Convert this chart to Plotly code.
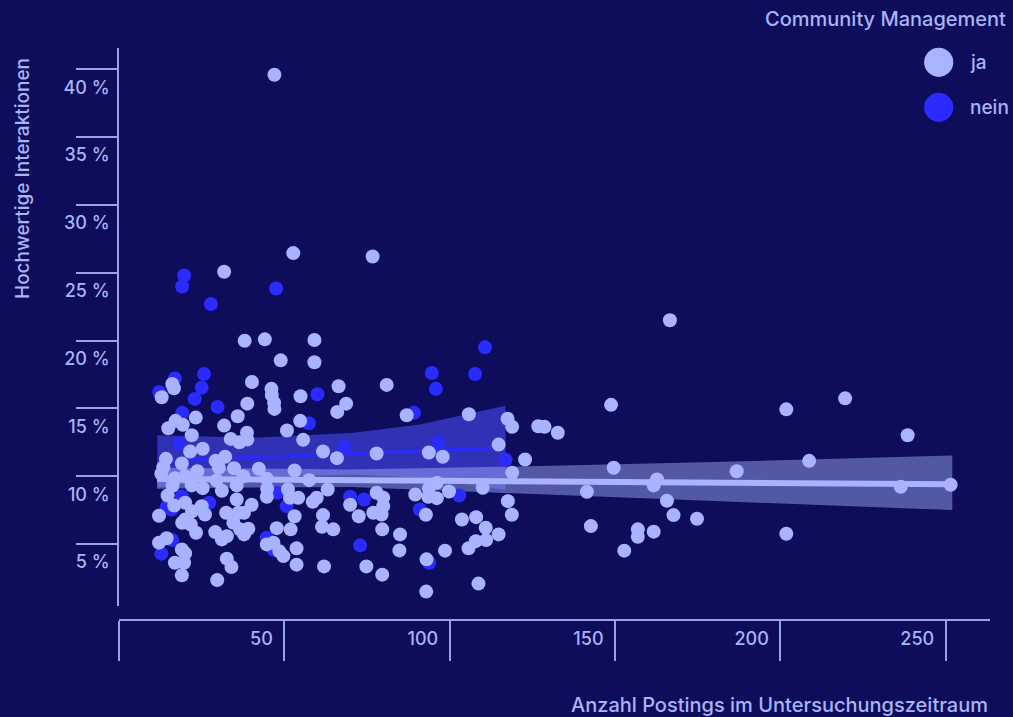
import plotly.graph_objects as go

# ---------------- data ----------------
# Community Management = "ja"
ja_x = [52.7, 76.7, 31.8, 47.0, 166.6, 38.0, 44.1, 59.1, 48.9, 59.1,
        80.95, 66.4, 68.7, 66.0, 54.9, 46.1, 46.2, 46.9, 47.0, 40.2,
        38.8, 35.9, 31.8, 16.1, 16.6, 12.9, 23.2, 17.1, 19.3, 14.9,
        22.0, 54.8, 50.8, 55.7, 38.7, 38.8, 36.4, 33.8, 87.0, 105.8,
        117.5, 118.9, 126.8, 61.7, 65.9, 77.9, 93.7, 97.9, 114.8, 122.8,
        118.9, 21.5, 25.3, 14.2, 19.0, 13.4, 12.8, 16.9, 20.0, 23.7,
        29.2, 32.1, 30.2, 34.8, 37.6, 42.3, 44.7, 53.1, 57.5, 29.5,
        22.0, 16.2, 25.3, 31.1, 35.6, 44.8, 44.7, 51.1, 51.7, 54.2,
        63.1, 59.8, 58.6, 69.9, 77.9, 79.9, 76.9, 79.4, 79.9, 72.5,
        89.6, 93.7, 96.1, 96.1, 93.5, 99.8, 110.0, 117.6, 118.8, 92.8,
        103.7, 108.0, 110.9, 114.8, 111.0, 107.9, 105.7, 98.6, 85.0, 84.8,
        79.6, 93.0, 108.7, 92.9, 79.6, 74.8, 62.0, 53.7, 53.7, 51.9,
        53.1, 47.7, 61.7, 64.8, 61.4, 49.7, 48.5, 44.7, 46.7, 40.1,
        37.8, 35.6, 36.1, 32.4, 34.6, 39.1, 37.8, 36.6, 32.6, 29.1,
        31.1, 25.0, 26.0, 22.1, 20.0, 16.7, 14.7, 12.1, 20.0, 21.7,
        23.3, 19.1, 14.4, 12.1, 19.0, 20.0, 16.9, 19.7, 19.0, 32.6,
        34.0, 29.7, 148.8, 201.8, 219.6, 238.5, 128.7, 132.7, 149.6, 186.8,
        208.7, 162.7, 161.7, 141.5, 236.4, 251.5, 165.7, 167.7, 174.8, 142.7,
        156.9, 156.9, 161.7, 152.8, 201.8]
ja_y = [26.45, 26.2, 25.07, 39.6, 21.5, 19.99, 20.09, 20.04, 18.54, 18.4,
        16.73, 16.63, 15.35, 14.74, 15.89, 16.44, 15.99, 15.41, 14.96, 16.95,
        15.35, 14.42, 13.73, 16.8, 16.48, 15.82, 14.32, 14.08, 13.79, 13.54,
        13.02, 14.08, 13.37, 12.68, 13.2, 12.7, 12.5, 12.75, 14.49, 14.57,
        14.23, 13.64, 13.68, 11.82, 11.33, 11.67, 11.75, 11.43, 12.33, 11.23,
        10.25, 11.82, 12.02, 11.28, 10.94, 10.66, 10.18, 9.85, 10.0, 10.37,
        11.13, 11.43, 10.62, 10.59, 10.0, 10.55, 9.81, 10.42, 9.71, 9.68,
        9.32, 9.29, 9.12, 8.93, 9.32, 9.07, 8.48, 9.02, 8.41, 8.41,
        9.02, 8.41, 8.12, 7.89, 8.78, 8.41, 7.31, 7.18, 7.79, 7.05,
        8.65, 9.07, 9.51, 8.38, 8.48, 8.87, 9.15, 8.16, 7.16, 7.16,
        6.81, 6.98, 6.2, 5.71, 5.29, 5.21, 4.68, 4.51, 5.71, 4.53,
        6.08, 3.87, 2.08, 1.49, 2.74, 3.35, 3.35, 3.48, 4.68, 6.08,
        7.05, 6.17, 7.13, 6.08, 6.27, 4.11, 4.46, 4.97, 5.1, 7.89,
        7.31, 8.28, 7.31, 7.31, 6.57, 6.13, 5.71, 6.08, 5.58, 5.88,
        5.34, 7.79, 7.18, 7.42, 8.04, 7.84, 8.58, 7.08, 6.81, 6.44,
        5.83, 6.57, 5.43, 5.1, 4.6, 4.31, 3.62, 3.62, 2.69, 3.92,
        3.3, 2.34, 15.26, 14.93, 15.74, 13.02, 13.64, 13.2, 10.62, 10.37,
        11.13, 9.76, 9.32, 8.85, 9.22, 9.37, 8.19, 7.13, 6.86, 6.32,
        6.08, 5.54, 5.91, 4.51, 5.76]

# Community Management = "nein"
nein_x = [19.7, 19.1, 47.5, 27.8, 110.7, 107.7, 94.6, 95.8, 60.0, 29.8,
          25.7, 25.0, 22.9, 16.9, 12.2, 19.1, 57.4, 89.2, 68.0, 96.7,
          116.9, 18.4, 47.9, 50.7, 69.9, 74.1, 102.9, 91.0, 93.8, 72.9,
          44.7, 46.7, 27.3, 15.9, 14.4, 19.0, 16.1, 12.8]
nein_y = [24.8, 23.99, 23.84, 22.7, 19.5, 17.54, 17.61, 16.44, 16.04, 15.11,
          17.54, 16.53, 15.7, 17.2, 16.19, 14.67, 13.9, 14.67, 12.14, 12.46,
          11.21, 12.39, 8.78, 7.79, 8.48, 8.28, 8.58, 7.55, 3.62, 4.9,
          5.46, 4.6, 8.04, 7.55, 7.72, 8.53, 5.29, 4.29]

# regression lines and confidence bands
ja_fit_x = [11.5, 40, 70, 115, 180, 252]
ja_fit_y = [9.8, 9.76, 9.73, 9.66, 9.55, 9.4]
ja_band_upper = [10.63, 10.54, 10.49, 10.69, 11.04, 11.52]
ja_band_lower = [9.07, 9.17, 9.2, 8.78, 8.17, 7.50]

nein_fit_x = [11.6, 40.6, 70.9, 91.0, 116.9]
nein_fit_y = [11.1, 11.38, 11.66, 11.85, 12.1]
nein_band_upper = [13.02, 12.83, 13.2, 13.81, 15.2]
nein_band_lower = [9.18, 9.93, 10.12, 9.89, 9.0]

x_ticks = [0, 50, 100, 150, 200, 250]
x_tick_text = ["", "50", "100", "150", "200", "250"]
y_ticks = [5, 10, 15, 20, 25, 30, 35, 40]
y_tick_text = [f"{v} %" for v in y_ticks]

legend_labels = ["ja", "nein"]

# ---------------- style ----------------
BG = "#0d0d5b"
LIGHT = "#a9b3ff"
BLUE = "#2a2bff"
TEXT = "#aab3f3"
AXIS = "#98a2ee"
FONT = "Inter"

fig = go.Figure()

# bands
fig.add_trace(go.Scatter(
    x=nein_fit_x + nein_fit_x[::-1], y=nein_band_upper + nein_band_lower[::-1],
    fill="toself", fillcolor="rgba(80,80,255,0.55)", line=dict(width=0),
    mode="lines", hoverinfo="skip", showlegend=False))
fig.add_trace(go.Scatter(
    x=ja_fit_x + ja_fit_x[::-1], y=ja_band_upper + ja_band_lower[::-1],
    fill="toself", fillcolor="rgba(169,179,255,0.45)", line=dict(width=0),
    mode="lines", hoverinfo="skip", showlegend=False))
# fit lines
fig.add_trace(go.Scatter(x=nein_fit_x, y=nein_fit_y, mode="lines",
                         line=dict(color=BLUE, width=3), showlegend=False))
fig.add_trace(go.Scatter(x=ja_fit_x, y=ja_fit_y, mode="lines",
                         line=dict(color=LIGHT, width=6), showlegend=False))
# points
fig.add_trace(go.Scatter(x=nein_x, y=nein_y, mode="markers", name="nein",
                         marker=dict(color=BLUE, size=14, line=dict(width=0)),
                         showlegend=False))
fig.add_trace(go.Scatter(x=ja_x, y=ja_y, mode="markers", name="ja",
                         marker=dict(color=LIGHT, size=14, line=dict(width=0)),
                         showlegend=False))

W, H = 1013, 717
ML, MR, MT, MB = 119, 23, 48, 97
plot_w = W - ML - MR
plot_h = H - MT - MB
gap = 14

tick_font = dict(family=FONT, color=TEXT, size=18, weight=500)

fig.update_layout(
    width=W, height=H,
    margin=dict(l=ML, r=MR, t=MT, b=MB, pad=0),
    paper_bgcolor=BG, plot_bgcolor=BG,
    font=dict(family=FONT, color=TEXT, size=18, weight=500),
    xaxis=dict(
        range=[0, 263.4], anchor="free", position=0,
        tickmode="array", tickvals=x_ticks, ticktext=x_tick_text,
        ticks="outside", ticklen=40, tickwidth=1.5, tickcolor=AXIS,
        showline=True, linecolor=AXIS, linewidth=1.5,
        showgrid=False, zeroline=False,
        ticklabelposition="outside left", ticklabelshift=-10, ticklabelstandoff=3,
        tickfont=tick_font,
    ),
    yaxis=dict(
        range=[0.43, 41.57], domain=[gap / plot_h, 1], anchor="x",
        tickmode="array", tickvals=y_ticks, ticktext=y_tick_text,
        ticks="outside", ticklen=41, tickwidth=1.5, tickcolor=AXIS,
        showline=True, linecolor=AXIS, linewidth=1.5,
        showgrid=False, zeroline=False,
        ticklabelshift=18, ticklabelstandoff=-37,
        tickfont=tick_font,
    ),
)

annotations = [
    dict(text="Hochwertige Interaktionen", xref="paper", yref="paper",
         x=0, y=(MT + plot_h - 179) / plot_h, xshift=-(ML - 22),
         xanchor="center", yanchor="middle",
         textangle=-90, showarrow=False,
         font=dict(family=FONT, size=19, color=TEXT, weight=500)),
    dict(text="Anzahl Postings im Untersuchungszeitraum", xref="paper", yref="paper",
         x=1, y=0, yshift=-85, xanchor="right", yanchor="middle", showarrow=False,
         font=dict(family=FONT, size=20, color=TEXT, weight=500)),
    dict(text="Community Management", xref="paper", yref="paper",
         x=1, y=1, xshift=18, yshift=29, xanchor="right", yanchor="middle",
         showarrow=False, font=dict(family=FONT, size=20, color=TEXT, weight=500)),
]

shapes = []
leg_x = 1 + (938.7 - (ML + plot_w)) / plot_w
leg_colors = [LIGHT, BLUE]
leg_y_px = [62.3, 107.3]
for lab, col, ypx in zip(legend_labels, leg_colors, leg_y_px):
    yp = (MT + plot_h - ypx) / plot_h
    shapes.append(dict(type="circle", xref="paper", yref="paper",
                       xsizemode="pixel", ysizemode="pixel",
                       xanchor=leg_x, yanchor=yp, x0=-14.6, x1=14.6, y0=-14.6, y1=14.6,
                       fillcolor=col, line=dict(width=0)))
    annotations.append(dict(text=lab, xref="paper", yref="paper", x=leg_x, y=yp,
                            xshift=29, xanchor="left", yanchor="middle", showarrow=False,
                            font=dict(family=FONT, size=19, color=TEXT, weight=500)))

fig.update_layout(annotations=annotations, shapes=shapes)

fig.write_html("out.html", config={"displayModeBar": False},
               post_script="document.body.style.margin='0';document.body.style.padding='0';")
